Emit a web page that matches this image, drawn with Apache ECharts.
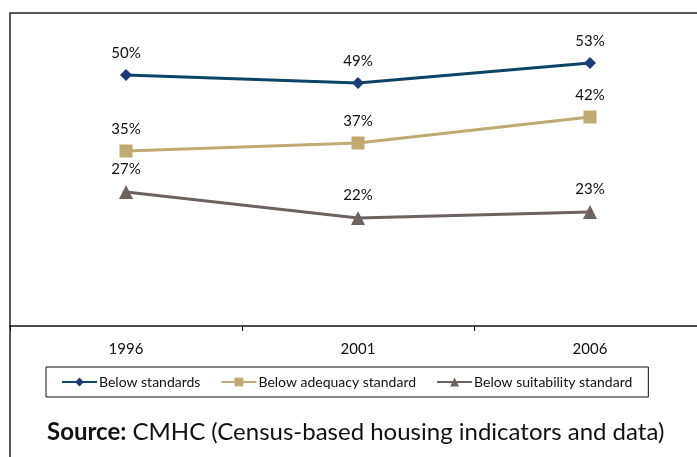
<!DOCTYPE html>
<html>
<head>
<meta charset="utf-8">
<script src="https://cdn.jsdelivr.net/npm/echarts@6/dist/echarts.min.js"></script>
<style>
  html, body { margin: 0; padding: 0; background: #fff; }
  #chart { width: 697px; height: 457px; }
</style>
</head>
<body>
<div id="chart"></div>
<script>
var years = ['1996', '2001', '2006'];
// values; labels show them rounded
var belowStandards = [50.2, 48.6, 52.6];
var belowAdequacy = [35.0, 36.6, 41.8];
var belowSuitability = [26.8, 21.6, 22.8];

var font = 'Lato';

function makeSeries(name, data, color, symbol, size, symbolColor) {
    return {
        name: name,
        type: 'line',
        data: data,
        symbol: symbol,
        symbolSize: size,
        lineStyle: { color: color, width: 3 },
        itemStyle: { color: symbolColor || color },
        label: {
            show: true,
            position: 'top',
            distance: 8,
            formatter: function (p) { return Math.round(p.value) + '%'; },
            color: '#111',
            fontSize: 15,
            fontFamily: font
        }
    };
}

var myChart = echarts.init(document.getElementById('chart'));
myChart.setOption({
    animation: false,
    grid: { left: 10, width: 696, top: 13, bottom: 131, outerBoundsMode: 'none' },
    xAxis: {
        type: 'category',
        data: years,
        boundaryGap: true,
        axisLine: { lineStyle: { color: '#111', width: 1.5 } },
        axisTick: { show: true, length: 5, lineStyle: { color: '#111' } },
        axisLabel: { color: '#111', fontSize: 15, fontFamily: font, margin: 16 }
    },
    yAxis: {
        type: 'value',
        min: 0,
        max: 62.6,
        show: false,
        splitLine: { show: false }
    },
    legend: {
        left: 46,
        top: 367,
        padding: [8, 16, 8, 15],
        borderColor: '#111',
        borderWidth: 1,
        itemWidth: 35,
        itemHeight: 11,
        itemGap: 20,
        textStyle: { color: '#111', fontSize: 14, fontFamily: font, padding: [0, 0, 0, -3] },
        data: ['Below standards', 'Below adequacy standard', 'Below suitability standard']
    },
    graphic: [
        {
            type: 'rect',
            shape: { x: 10, y: 13, width: 720, height: 480 },
            style: { fill: 'none', stroke: '#222', lineWidth: 1.5 },
            silent: true
        },
        {
            type: 'text',
            x: 47,
            y: 432,
            style: {
                text: '{b|Source:} CMHC (Census-based housing indicators and data)',
                fontSize: 24,
                fontFamily: font,
                fill: '#111',
                verticalAlign: 'middle',
                rich: {
                    b: { fontWeight: 'bold', fontSize: 24, fontFamily: font, fill: '#111' }
                }
            }
        }
    ],
    series: [
        makeSeries('Below standards', belowStandards, '#0b4466', 'diamond', 12, '#1a3a78'),
        makeSeries('Below adequacy standard', belowAdequacy, '#c0aa72', 'rect', 13),
        makeSeries('Below suitability standard', belowSuitability, '#6e625e', 'triangle', 14)
    ]
});
</script>
</body>
</html>
